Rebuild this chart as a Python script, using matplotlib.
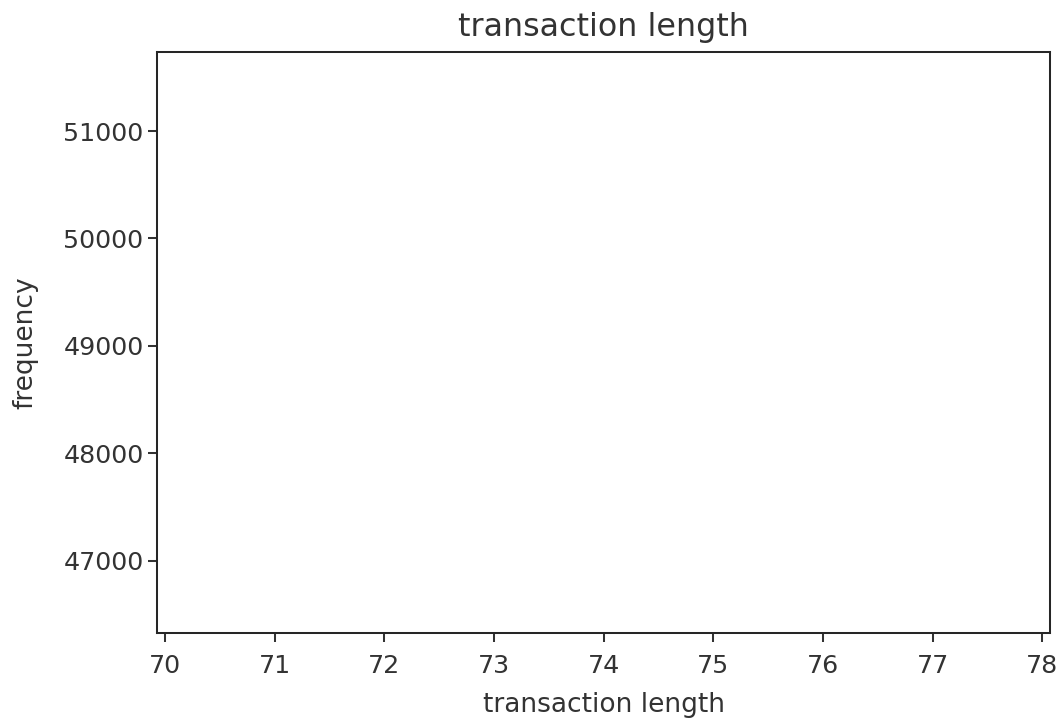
import matplotlib
matplotlib.use("Agg")
import matplotlib.pyplot as plt

# dati: il grafico originale non mostra alcuna barra nell'intervallo visibile
lengths = []
frequencies = []

x_limits = (69.93, 78.07)
y_limits = (46327, 51738)
x_ticks = [70, 71, 72, 73, 74, 75, 76, 77, 78]
y_ticks = [47000, 48000, 49000, 50000, 51000]

scale = 1.83
plt.rcParams["font.family"] = "DejaVu Sans"
plt.rcParams["font.size"] = 10 * scale

fig = plt.figure(figsize=(10.61, 7.25), dpi=100)
ax = fig.add_axes([0.1483, 0.1265, 0.9896 - 0.1483, 0.9287 - 0.1265])

ax.bar(lengths, frequencies)

ax.set_xlim(*x_limits)
ax.set_ylim(*y_limits)
ax.set_xticks(x_ticks)
ax.set_yticks(y_ticks)
ax.tick_params(labelsize=10 * scale, length=3.5 * scale, width=0.8 * scale, colors="#333333")
ax.tick_params(axis="x", pad=4.5 * scale)
for spine in ax.spines.values():
    spine.set_linewidth(0.8 * scale)
    spine.set_color("#262626")

ax.set_title("transaction length", fontsize=12.5 * scale, color="#333333", pad=6 * scale)
ax.set_xlabel("transaction length", fontsize=10.4 * scale, color="#333333", labelpad=5.5 * scale)
ax.set_ylabel("frequency", fontsize=10.4 * scale, color="#333333", labelpad=10 * scale)

fig.savefig("out.png", dpi=100)
